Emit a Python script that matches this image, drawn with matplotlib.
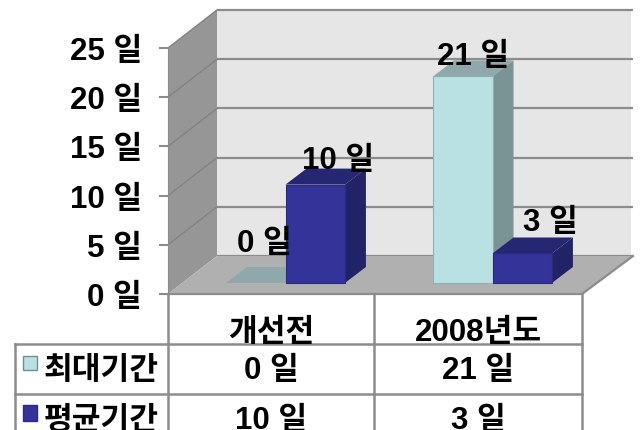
import matplotlib
matplotlib.use("Agg")
import matplotlib.pyplot as plt
from matplotlib.patches import Polygon, Rectangle
from matplotlib.transforms import Affine2D

categories = ["개선전", "2008년도"]
series_names = ["최대기간", "평균기간"]
max_days = [0, 21]
avg_days = [10, 3]
y_ticks = [0, 5, 10, 15, 20, 25]
label_fmt = "{} 일"

plt.rcParams["font.family"] = ["Liberation Sans", "Noto Sans CJK KR", "DejaVu Sans"]
plt.rcParams["font.weight"] = "bold"

W, H = 642, 431
X0, Y0 = 168, 295          # front-left floor corner, pixels
PX_CAT = 207               # pixels per category
PX_VAL = 9.84              # pixels per value unit
FS = 22.5
TXT_DROP = 3               # pixels the text sits below its nominal centre

fig = plt.figure(figsize=(W / 100, H / 100), dpi=100, facecolor="white")
ax = fig.add_axes([0, 0, 1, 1])
ax.set_xlim(-X0 / PX_CAT, (W - X0) / PX_CAT)
ax.set_ylim((Y0 - H) / PX_VAL, Y0 / PX_VAL)
ax.axis("off")
px = Affine2D().scale(1, -1).translate(0, H)   # pixel coords, origin top-left


def shift(x, y, dx_px, dy_px):
    """data point moved by a depth offset given in pixels"""
    return (x + dx_px / PX_CAT, y - dy_px / PX_VAL)


GRID = "#8c8c8c"
WALL_D = (49, -38)   # depth of the chart box
top = y_ticks[-1]
n = len(categories)

# back wall
ax.add_patch(Polygon([shift(0, 0, *WALL_D), shift(n, 0, *WALL_D),
                      shift(n, top, *WALL_D), shift(0, top, *WALL_D)],
                     closed=True, fc="#e6e6e6", ec="none", zorder=1))
ax.add_patch(Polygon([(0, 0), shift(0, 0, *WALL_D), shift(0, top, *WALL_D), (0, top)],
                     closed=True, fc="#969696", ec="none", zorder=2))
ax.add_patch(Polygon([(0, 0), (n, 0), shift(n, 0, 51, -38), shift(0, 0, *WALL_D)],
                     closed=True, fc="#b0b0b0", ec="none", zorder=2))
for t in y_ticks:
    a, b = shift(0, t, *WALL_D), shift(n, t, 51, -38)
    ax.plot([a[0], b[0]], [a[1], a[1]], color=GRID, lw=1.6, zorder=1.5, solid_capstyle="butt")
    if t != y_ticks[0]:
        ax.plot([0, a[0]], [t, a[1]], color="#828282", lw=1.0, zorder=3)
    ax.plot([-8 / PX_CAT, 0], [t, t], color=GRID, lw=1.5, zorder=3)
    ax.text(-26 / PX_CAT, t - TXT_DROP / PX_VAL, label_fmt.format(t), ha="right", va="center",
            fontsize=FS, color="black", zorder=10)
ax.plot([0, n, shift(n, 0, 51, -38)[0]], [0, 0, shift(n, 0, 51, -38)[1]], color=GRID, lw=1.6, zorder=3)
ax.plot([0, 0], [0, top], color="#8c8c8c", lw=0.8, zorder=3)

# bars
BAR_W = 0.287
BASE = (14, -11)
DEPTH = (21, -16)
styles = [dict(front="#b9e0e3", side="#7a9394", roof="#90a8ab", edge="#8fb0b2"),
          dict(front="#333399", side="#222266", roof="#262673", edge="#2a2a80")]
label_off = {(0, 0): (9, 43), (0, 1): (23, 28), (1, 0): (10, 23), (1, 1): (28, 34)}

for i in range(n):
    for s, vals in enumerate([max_days, avg_days]):
        v = vals[i]
        st = styles[s]
        left = i + 0.5 - BAR_W + s * BAR_W
        l, b0 = shift(left, 0, *BASE)
        r = l + BAR_W
        z = 4 + s
        tl = (l, b0 + v)
        tr = (r, b0 + v)
        if v > 0:
            ax.add_patch(Polygon([(r, b0), shift(r, b0, *DEPTH), shift(r, b0 + v, *DEPTH), tr],
                                 closed=True, fc=st["side"], ec="none", zorder=z))
            ax.bar(l, v, BAR_W, bottom=b0, align="edge", color=st["front"],
                   edgecolor=st["edge"], linewidth=0.8, zorder=z + 0.1)
        ax.add_patch(Polygon([tl, tr, shift(r, b0 + v, *DEPTH), shift(l, b0 + v, *DEPTH)],
                             closed=True, fc=st["roof"], ec="none", zorder=z))
        ox, oy = label_off[(i, s)]
        ax.annotate(label_fmt.format(v), xy=(l + BAR_W / 2, b0 + v),
                    xytext=(ox * 0.72, (oy - TXT_DROP) * 0.72),
                    textcoords="offset points", ha="center", va="center", fontsize=FS,
                    color="black", zorder=10)

# data table
TBL = "#8c8c8c"
for x, y1, y2 in [(168, 295, 431), (374, 295, 431), (582, 295, 431), (15, 345, 431)]:
    ax.plot([x, x], [y1, y2], transform=px, color=TBL, lw=1.8, zorder=3, clip_on=False)
for y in (345, 395):
    ax.plot([15, 582], [y, y], transform=px, color=TBL, lw=1.8, zorder=3)

col_x = [271, 478]
for c, name in zip(col_x, categories):
    ax.text(c, 330 + TXT_DROP, name, transform=px, ha="center", va="center", fontsize=FS, color="black")
rows = [(368, max_days), (418, avg_days)]
for (ry, vals), name, st, (ky, kh) in zip(rows, series_names, styles, [(357, 14), (406, 16)]):
    ax.text(101, ry + TXT_DROP, name, transform=px, ha="center", va="center", fontsize=FS, color="black")
    ax.add_patch(Rectangle((23, ky), 14, kh, transform=px, fc=st["front"],
                           ec="#6f8f92" if st is styles[0] else "#2a2a80", lw=1, zorder=4))
    for c, v in zip(col_x, vals):
        ax.text(c, ry + TXT_DROP, label_fmt.format(v), transform=px, ha="center", va="center",
                fontsize=FS, color="black")

fig.savefig("out.png", dpi=100, facecolor="white")
